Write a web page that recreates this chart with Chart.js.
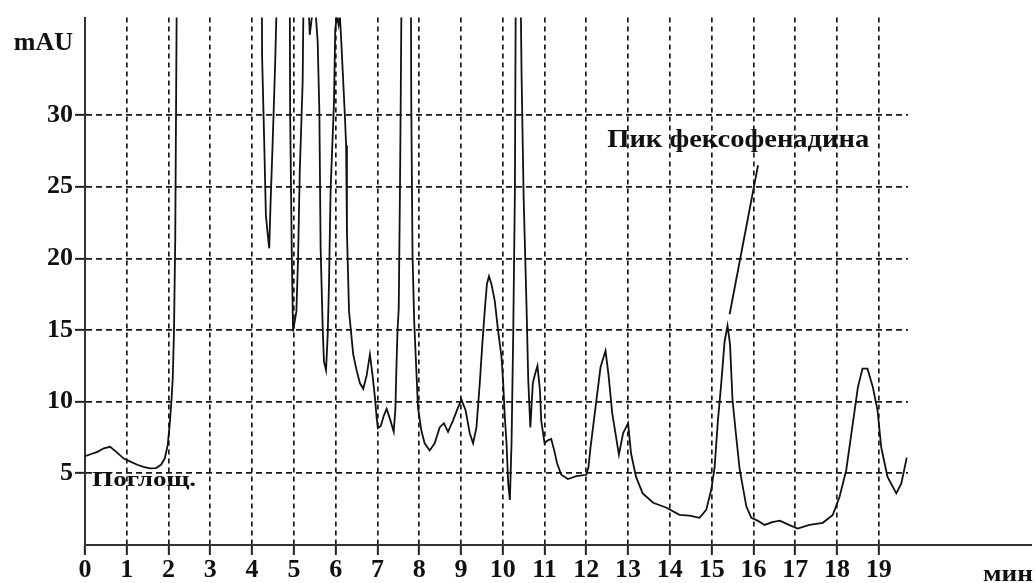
<!DOCTYPE html>
<html>
<head>
<meta charset="utf-8">
<script src="https://cdn.jsdelivr.net/npm/chart.js@4.4.1/dist/chart.umd.min.js"></script>
<style>
  body { margin: 0; background: #fff; }
  #holder { width: 1036px; height: 583px; }
</style>
</head>
<body>
<div id="holder"><canvas id="chrom" width="1036" height="583"></canvas></div>
<script>
// retention time, min
var times = [
  0.00, 0.15, 0.30, 0.45, 0.60, 0.75, 0.92, 1.10, 1.25, 1.40, 1.55, 1.70, 1.82, 1.91, 1.98,
  2.03, 2.07, 2.10, 2.13, 2.16, 2.20, 2.60, 3.10, 3.60, 4.00, 4.23,
  4.24, 4.29, 4.33, 4.38, 4.41, 4.44, 4.49, 4.55, 4.59, 4.75, 4.90,
  4.91, 4.95, 4.98, 5.06, 5.10, 5.14, 5.21, 5.23, 5.32, 5.38, 5.45, 5.50, 5.57, 5.61,
  5.64, 5.69, 5.72, 5.77, 5.81, 5.84, 5.88, 5.93, 5.96, 5.99, 6.03, 6.07, 6.10, 6.14,
  6.22, 6.25, 6.27, 6.32, 6.42, 6.50, 6.58, 6.66, 6.74, 6.82, 6.88, 6.94, 6.98,
  7.01, 7.08, 7.15, 7.22, 7.30, 7.39, 7.43, 7.45, 7.48, 7.51, 7.54, 7.56, 7.58, 7.70, 7.80,
  7.81, 7.84, 7.88, 7.97, 8.05, 8.13, 8.25, 8.37, 8.49, 8.59, 8.69, 8.81, 8.93,
  9.01, 9.11, 9.21, 9.29, 9.37, 9.45, 9.51, 9.57, 9.62, 9.67, 9.73, 9.81, 9.89, 9.97,
  10.01, 10.05, 10.09, 10.13, 10.17, 10.21, 10.25, 10.29, 10.31, 10.37, 10.43, 10.45,
  10.50, 10.57, 10.61, 10.66, 10.72, 10.77, 10.83, 10.89, 10.92, 11.00, 11.08, 11.16,
  11.24, 11.30, 11.40, 11.56, 11.76, 12.00, 12.05, 12.10, 12.22, 12.34, 12.46, 12.53,
  12.62, 12.78, 12.88, 13.00, 13.07, 13.19, 13.35, 13.60, 13.92, 14.23, 14.47, 14.71,
  14.87, 14.99, 15.07, 15.15, 15.23, 15.31, 15.38, 15.44, 15.50, 15.59, 15.67, 15.83,
  15.95, 16.10, 16.27, 16.45, 16.63, 16.85, 17.06, 17.34, 17.66, 17.90, 18.06, 18.22,
  18.38, 18.50, 18.61, 18.73, 18.86, 18.97, 19.06, 19.21, 19.42, 19.54, 19.67
];

// absorbance, mAU (values above ~37 are off the top of the plot, guessed)
var absorbance = [
  6.2, 6.35, 6.5, 6.75, 6.85, 6.5, 6.05, 5.8, 5.6, 5.45, 5.35, 5.37, 5.6, 6.05, 6.97,
  8.5, 10.1, 11.6, 14.9, 21.3, 40, 46, 48, 46, 45, 40,
  34, 28.1, 23, 21.5, 20.7, 23.7, 27.9, 33.4, 38, 45, 40,
  30.3, 20.3, 14.9, 16.3, 20, 26, 32.3, 38, 40, 35.6, 37.3, 38, 35.1, 30.2,
  20.7, 15.1, 12.8, 12.2, 14.7, 18.2, 24.9, 28.6, 30.9, 36, 36.9, 36.3, 37, 34.8,
  30, 27.9, 21.9, 16.3, 13.3, 12.2, 11.3, 10.9, 11.8, 13.3, 11.9, 10.3, 8.9,
  8.15, 8.3, 9.0, 9.5, 8.8, 7.9, 9.5, 11.9, 14.9, 16.5, 25, 32, 40, 46, 40,
  30.7, 20.2, 15.6, 9.6, 8.0, 7.1, 6.6, 7.1, 8.2, 8.5, 7.9, 8.7, 9.6,
  10.15, 9.4, 7.8, 7.1, 8.2, 11.3, 14.0, 16.4, 18.2, 18.75, 18.2, 17.0, 14.9, 13.1,
  11.3, 8.9, 7.1, 4.3, 3.15, 7.1, 14.7, 24.6, 38, 46, 38, 32.8,
  24.2, 16.5, 11.5, 8.2, 11.3, 11.9, 12.5, 10.8, 8.7, 7.1, 7.3, 7.4,
  6.5, 5.7, 4.9, 4.6, 4.8, 4.9, 5.4, 6.8, 9.6, 12.4, 13.55, 11.9,
  9.2, 6.3, 7.8, 8.5, 6.4, 4.75, 3.6, 2.95, 2.6, 2.1, 2.05, 1.9,
  2.45, 3.85, 5.4, 8.7, 11.3, 14.2, 15.3, 14.0, 10.1, 7.5, 5.3, 2.7,
  1.9, 1.7, 1.4, 1.6, 1.7, 1.4, 1.15, 1.4, 1.55, 2.1, 3.35, 5.2,
  8.5, 11.0, 12.3, 12.3, 11.0, 9.4, 6.8, 4.75, 3.6, 4.3, 6.1
];

// pointer from the label to the fexofenadine peak
var pointerX = [15.43, 16.11];
var pointerY = [16.1, 26.5];

var xTicks = [0, 19];          // first and last labelled minute
var yTicks = [5, 30];          // first and last labelled mAU value

var serif = '"Liberation Serif", "Times New Roman", serif';
var ink = '#111';

var trace = times.map(function (t, i) { return {x: t, y: absorbance[i]}; });
var pointer = pointerX.map(function (t, i) { return {x: t, y: pointerY[i]}; });

// texts written on the chart
var notes = [
  {text: 'Пик фексофенадина', x: 12.5, y: 27.8, size: 26, width: 262},
  {text: 'Поглощ.', x: 0.17, y: 4.1, size: 22, width: 104}
];

function drawText(ctx, text, x, y, size, width) {
  ctx.save();
  ctx.font = 'bold ' + size + 'px ' + serif;
  ctx.fillStyle = ink;
  ctx.textBaseline = 'alphabetic';
  ctx.textAlign = 'left';
  var w = ctx.measureText(text).width;
  ctx.translate(x, y);
  if (width) ctx.scale(width / w, 1);
  ctx.fillText(text, 0, 0);
  ctx.restore();
}

var extras = {
  id: 'extras',
  afterDraw: function (chart) {
    var ctx = chart.ctx, area = chart.chartArea;
    var xs = chart.scales.x, ys = chart.scales.y;

    // the time axis runs on past the grid
    ctx.save();
    ctx.strokeStyle = '#333';
    ctx.lineWidth = 2;
    ctx.beginPath();
    ctx.moveTo(area.right, area.bottom);
    ctx.lineTo(chart.width - 4, area.bottom);
    ctx.stroke();
    ctx.restore();

    notes.forEach(function (n) {
      drawText(ctx, n.text, xs.getPixelForValue(n.x), ys.getPixelForValue(n.y), n.size, n.width);
    });
    drawText(ctx, 'мин', chart.width - 53, area.bottom + 36, 24, 50);
  }
};

var bar = document.getElementById('chrom').getContext('2d');

new Chart(bar, {
  type: 'line',
  data: {
    datasets: [
      {data: trace, borderColor: ink, borderWidth: 1.8, pointRadius: 0, tension: 0},
      {data: pointer, borderColor: ink, borderWidth: 1.8, pointRadius: 0, tension: 0}
    ]
  },
  options: {
    responsive: false,
    animation: false,
    events: [],
    layout: {padding: {top: 15, right: 128, left: 0, bottom: 0}},
    plugins: {legend: {display: false}, tooltip: {enabled: false}},
    scales: {
      x: {
        type: 'linear',
        min: 0,
        max: 19.7,
        afterFit: function (s) { s.height = 38; },
        ticks: {
          stepSize: 1, includeBounds: false, autoSkip: false, maxRotation: 0, padding: 0,
          color: ink, font: {family: serif, size: 26, weight: 'bold'},
          callback: function (v) { return (v >= xTicks[0] && v <= xTicks[1]) ? v : ''; }
        },
        grid: {color: '#1a1a1a', lineWidth: 1.7, tickLength: 10, tickColor: '#222', tickWidth: 2},
        border: {display: true, color: '#333', width: 2, dash: [5, 4]}
      },
      y: {
        min: 0,
        max: 36.8,
        afterFit: function (s) { s.width = 85; },
        ticks: {
          stepSize: 5, includeBounds: false, padding: 2,
          color: ink, font: {family: serif, size: 26, weight: 'bold'},
          callback: function (v) {
            if (v > yTicks[1]) return 'mAU';
            return v >= yTicks[0] ? v : '';
          }
        },
        grid: {
          color: function (c) { return (c.tick && (c.tick.value < yTicks[0] || c.tick.value > yTicks[1])) ? 'rgba(0,0,0,0)' : '#1a1a1a'; },
          tickColor: function (c) { return (c.tick && (c.tick.value < yTicks[0] || c.tick.value > yTicks[1])) ? 'rgba(0,0,0,0)' : '#222'; },
          lineWidth: 1.7, tickLength: 10, tickWidth: 2
        },
        border: {display: true, color: '#333', width: 2, dash: [6, 4]}
      }
    }
  },
  plugins: [extras]
});
</script>
</body>
</html>
